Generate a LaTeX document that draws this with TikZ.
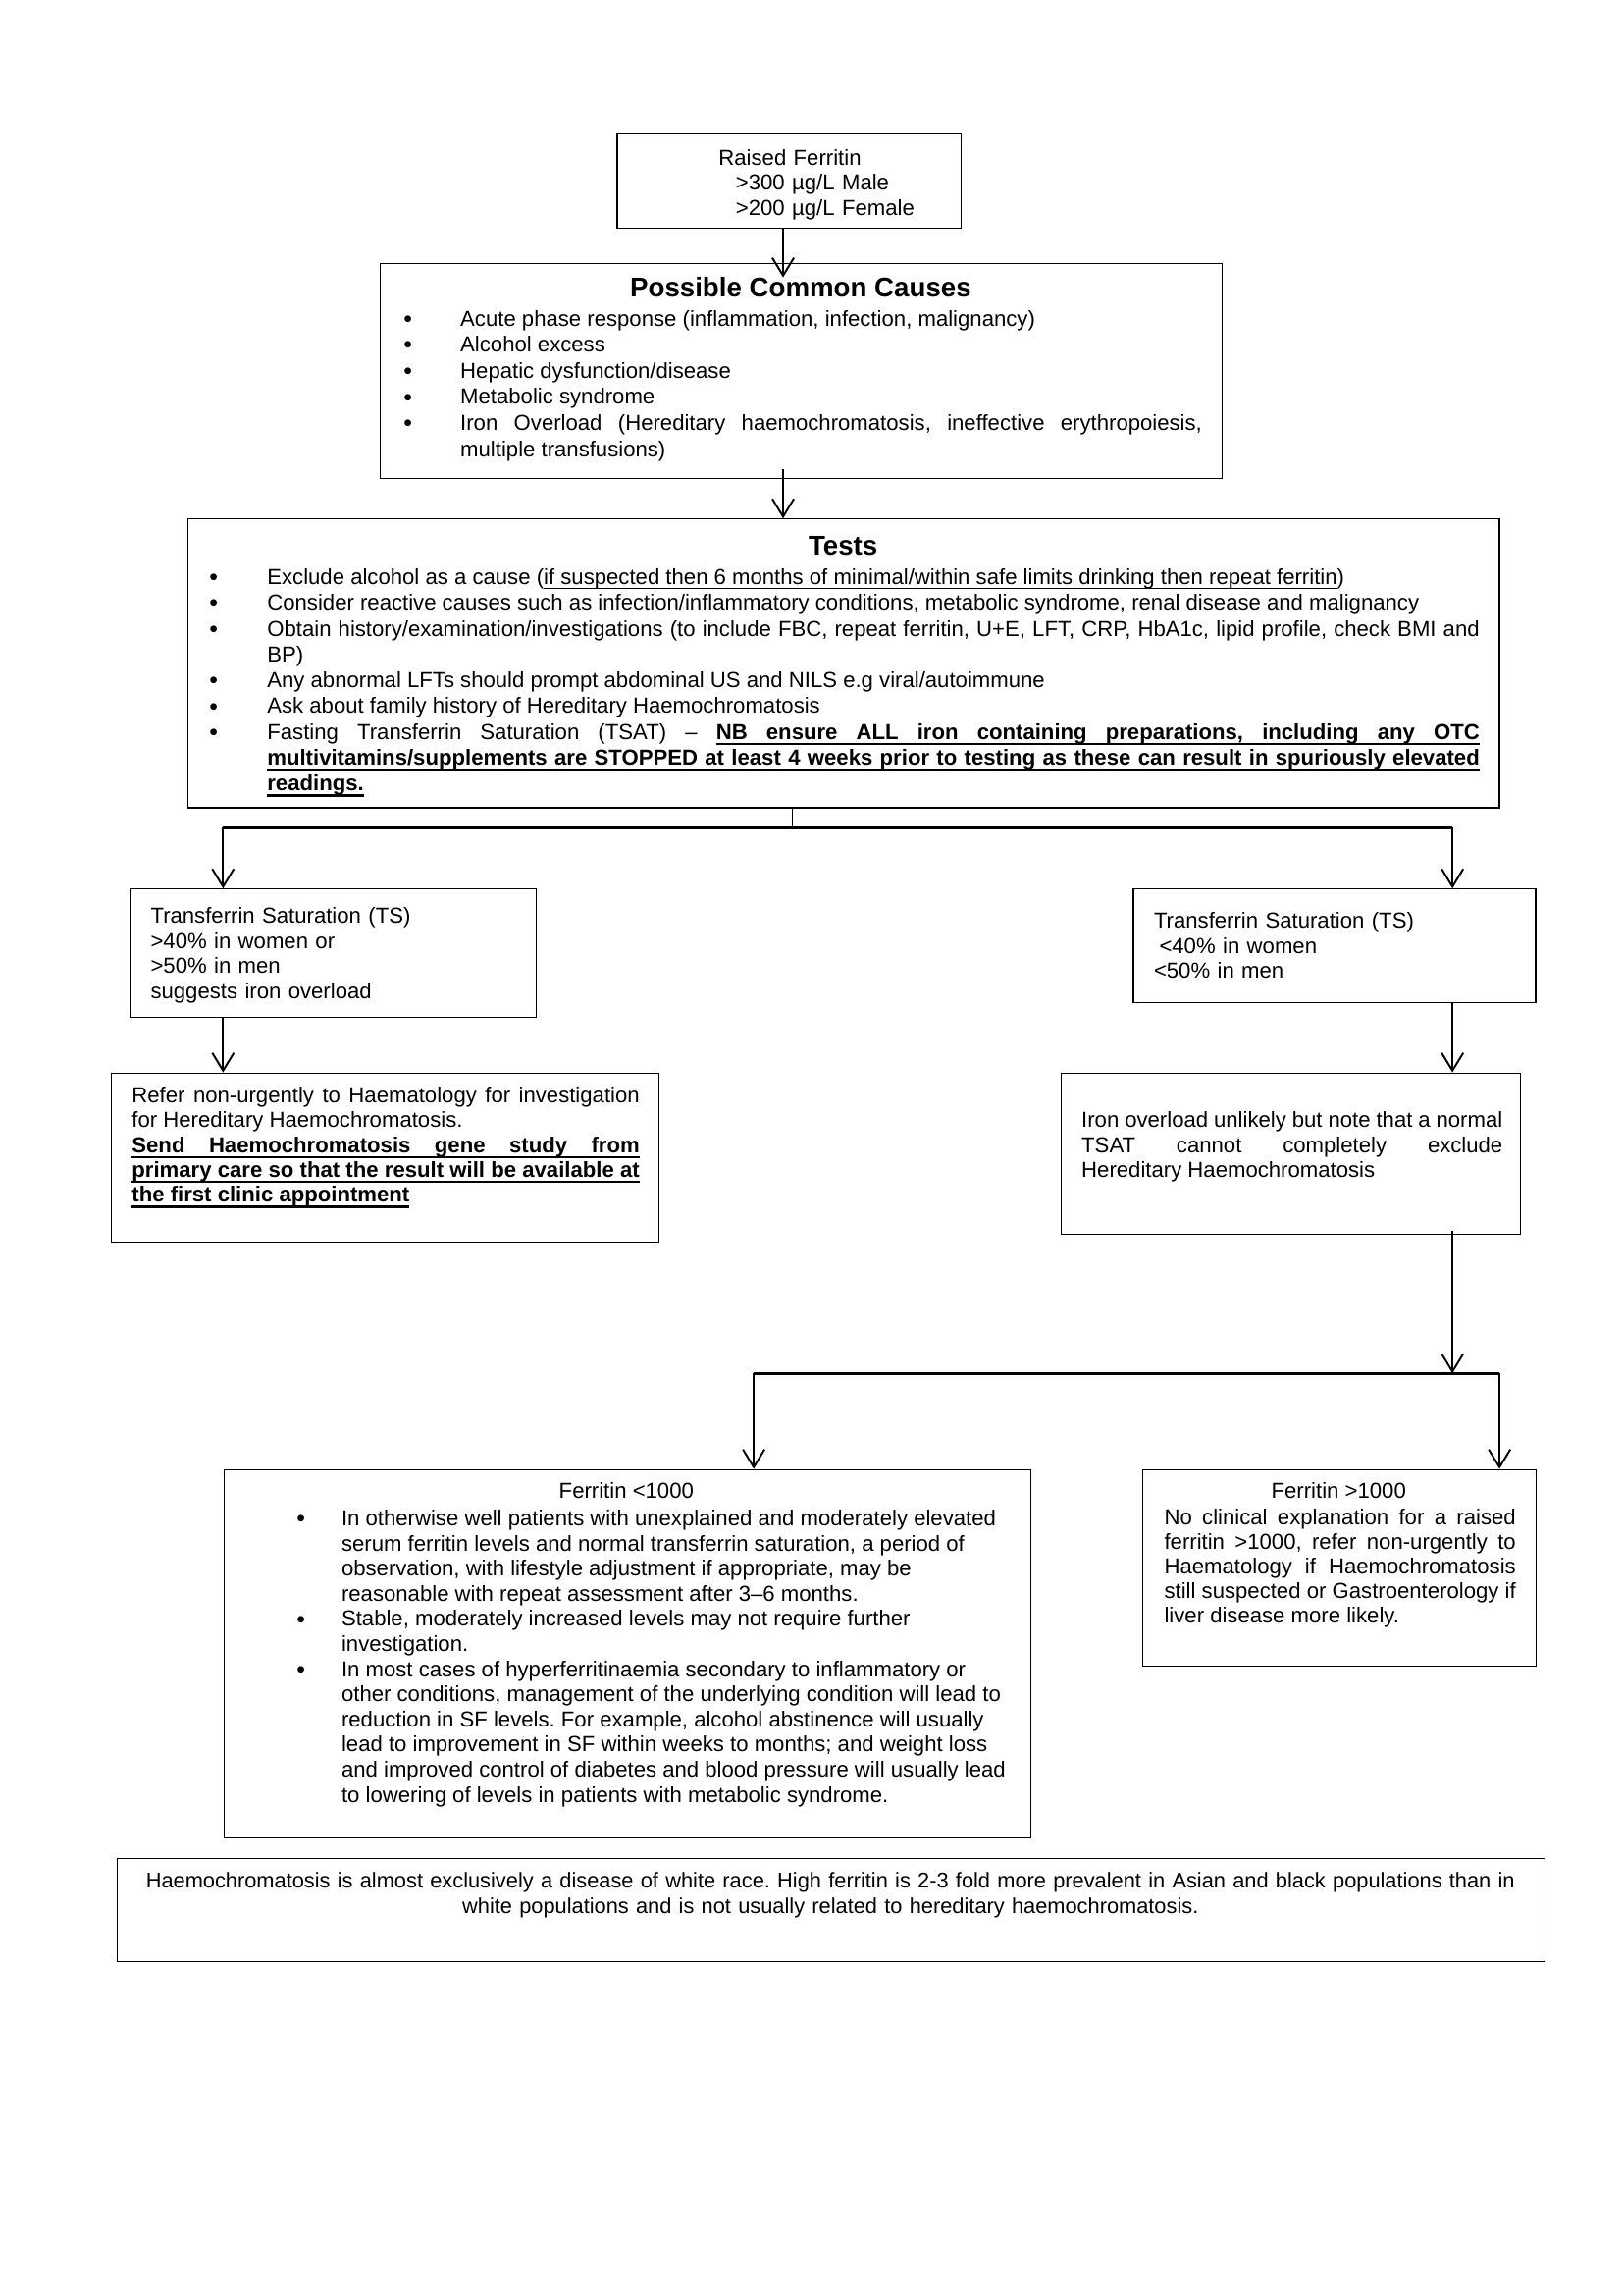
\documentclass[tikz,border=0pt]{standalone}
\usepackage{fontspec}
\setmainfont{Liberation Sans}
\usetikzlibrary{arrows.meta}
\setlength{\parindent}{0pt}
\tolerance=10000
\hyphenpenalty=10000
\frenchspacing
\newcommand{\fs}[1]{\fontsize{8}{#1}\selectfont}
\newcommand{\bhead}[1]{\hangindent=#1\hangafter=1\noindent\makebox[#1][l]{\hspace{0.03cm}{\fontsize{9}{9}\selectfont\raisebox{-0.4pt}{\textbullet}}}}
\newcommand{\bitem}[1]{\par\bhead{#1}}
% underlining word by word, so that justified spaces stay underlined
\newcommand{\ulset}[2]{\def\ultop{#1}\def\ulbot{#2}}
\def\ulword#1{\setbox0=\hbox{#1}\rlap{\vrule height -\ultop depth \ulbot width \wd0}\box0}
\def\ulspace{\leaders\hrule height -\ultop depth \ulbot\hskip\fontdimen2\font plus\fontdimen3\font minus\fontdimen4\font\relax}
\def\ulstop#1\ulend{}
\def\ulparse#1 #2\ulend{\ulword{#1}\ifx\relax#2\relax\expandafter\ulstop\else\ulspace\expandafter\ulparse\fi#2\ulend}
\newcommand{\ulbf}[1]{\textbf{\ulset{1.3pt}{2.2pt}\ulparse#1 \ulend}}
\newcommand{\ulthin}[1]{{\ulset{1.2pt}{1.6pt}\ulparse#1 \ulend}}
\begin{document}
\begin{tikzpicture}[
  box/.style={draw, line width=0.4pt, inner sep=0pt, anchor=north west},
  txt/.style={inner sep=0pt, anchor=north west},
  heading/.style={inner sep=0pt, anchor=base, font=\fontsize{10}{12}\selectfont\bfseries},
  conn/.style={line width=0.7pt},
  arr/.style={conn, -{Straight Barb[length=2.3mm,width=2.8mm]}},
  bar/.style={line width=1pt}]

\useasboundingbox (0,0) rectangle (21.006,29.553);

% Drawing boxes
\draw (7.981,27.826) node [box, minimum width=4.453cm, minimum height=1.219cm] (raised) {};%
\draw (4.915,26.146) node [box, minimum width=10.892cm, minimum height=2.774cm] (causes) {};%
\draw (2.421,22.844) node [box, minimum width=16.977cm, minimum height=3.737cm] (tests) {};%
\draw (1.674,18.056) node [box, minimum width=5.259cm, minimum height=1.660cm] (highsat) {};%
\draw (14.661,18.056) node [box, minimum width=5.207cm, minimum height=1.474cm] (lowsat) {};%
\draw (1.431,15.676) node [box, minimum width=7.095cm, minimum height=2.189cm] (refer) {};%
\draw (13.723,15.676) node [box, minimum width=5.952cm, minimum height=2.091cm] (unlikely) {};%
\draw (2.892,10.545) node [box, minimum width=10.441cm, minimum height=4.764cm] (ferlow) {};%
\draw (14.783,10.545) node [box, minimum width=5.086cm, minimum height=2.548cm] (ferhigh) {};%
\draw (1.516,5.511) node [box, minimum width=18.475cm, minimum height=1.331cm] (note) {};%

% Drawing texts
\draw (9.295,27.641) node [txt, text width=3cm, align=left, font=\fs{9.1}] (raisedtxt)
  {\strut Raised Ferritin\\\hspace*{0.222cm}>300 µg/L Male\\\hspace*{0.222cm}>200 µg/L Female};%

\draw (10.362,25.709) node [heading] (causestitle) {Possible Common Causes};%
\draw (5.186,25.576) node [txt, text width=10.364cm, align=justify, font=\fs{9.6}] (causestxt)
  {\bhead{0.766cm}\strut Acute phase response (inflammation, infection, malignancy)
   \bitem{0.766cm}Alcohol excess
   \bitem{0.766cm}Hepatic dysfunction/disease
   \bitem{0.766cm}Metabolic syndrome
   \bitem{0.766cm}Iron Overload (Hereditary haemochromatosis, ineffective erythropoiesis,\linebreak multiple transfusions)\par};%

\draw (10.911,22.365) node [heading] (teststitle) {Tests};%
\draw (2.674,22.230) node [txt, text width=16.468cm, align=justify, font=\fs{9.5}] (teststxt)
  {\bhead{0.778cm}\strut Exclude alcohol as a cause (\ulthin{if suspected then 6 months of minimal/within safe limits drinking then repeat ferritin})
   \bitem{0.778cm}Consider reactive causes such as infection/inflammatory conditions, metabolic syndrome, renal disease and malignancy
   \bitem{0.778cm}Obtain history/examination/investigations (to include FBC, repeat ferritin, U+E, LFT, CRP, HbA1c, lipid profile, check BMI and\linebreak BP)
   \bitem{0.778cm}Any abnormal LFTs should prompt abdominal US and NILS e.g viral/autoimmune
   \bitem{0.778cm}Ask about family history of Hereditary Haemochromatosis
   \bitem{0.778cm}Fasting Transferrin Saturation (TSAT) – \ulbf{NB ensure ALL iron containing preparations, including any OTC}\linebreak
   \ulbf{multivitamins/supplements are STOPPED at least 4 weeks prior to testing as these can result in spuriously elevated}\linebreak
   \ulbf{readings.}\par};%

\draw (1.943,17.842) node [txt, text width=5cm, align=left, font=\fs{9.22}] (highsattxt)
  {\strut Transferrin Saturation (TS)\\>40\% in women or\\>50\% in men\\suggests iron overload};%
\draw (14.928,17.778) node [txt, text width=4.8cm, align=left, font=\fs{9.22}] (lowsattxt)
  {\strut Transferrin Saturation (TS)\\\hspace*{0.07cm}<40\% in women\\<50\% in men};%

\draw (1.700,15.511) node [txt, text width=6.571cm, align=justify, font=\fs{9.09}] (refertxt)
  {\strut Refer non-urgently to Haematology for investigation\linebreak for Hereditary Haemochromatosis.\par
   \ulbf{Send Haemochromatosis gene study from}\linebreak
   \ulbf{primary care so that the result will be available at}\linebreak
   \ulbf{the first clinic appointment}\par};%
\draw (13.991,15.196) node [txt, text width=5.45cm, align=justify, font=\fs{9.18}] (unlikelytxt)
  {\strut Iron overload unlikely but note that a normal\linebreak TSAT cannot completely exclude\linebreak Hereditary Haemochromatosis\par};%

\draw (8.107,10.164) node [heading, font=\fs{9.25}] (ferlowtitle) {Ferritin <1000};%
\draw (3.804,10.045) node [txt, text width=9.5cm, align=justify, font=\fs{9.25}] (ferlowtxt)
  {\bhead{0.609cm}\strut In otherwise well patients with unexplained and moderately elevated\newline
   serum ferritin levels and normal transferrin saturation, a period of\newline
   observation, with lifestyle adjustment if appropriate, may be\newline
   reasonable with repeat assessment after 3–6 months.
   \bitem{0.609cm}Stable, moderately increased levels may not require further\newline
   investigation.
   \bitem{0.609cm}In most cases of hyperferritinaemia secondary to inflammatory or\newline
   other conditions, management of the underlying condition will lead to\newline
   reduction in SF levels. For example, alcohol abstinence will usually\newline
   lead to improvement in SF within weeks to months; and weight loss\newline
   and improved control of diabetes and blood pressure will usually lead\newline
   to lowering of levels in patients with metabolic syndrome.\par};%

\draw (17.326,10.164) node [heading, font=\fs{9}] (ferhightitle) {Ferritin >1000};%
\draw (15.062,10.048) node [txt, text width=4.550cm, align=justify, font=\fs{9}] (ferhightxt)
  {\strut No clinical explanation for a raised\linebreak ferritin >1000, refer non-urgently to\linebreak
   Haematology if Haemochromatosis\linebreak still suspected or Gastroenterology if\linebreak
   liver disease more likely.\par};%

\draw (10.748,5.361) node [txt, anchor=north, text width=18.3cm, align=center, font=\fontsize{7.88}{9.29}\selectfont] (notetxt)
  {\strut Haemochromatosis is almost exclusively a disease of white race. High ferritin is 2-3 fold more prevalent in Asian and black populations than in\\
   white populations and is not usually related to hereditary haemochromatosis.};%

% Drawing connectors
\coordinate (axis) at (10.135,25.963);
\coordinate (split) at (10.255,18.845);
\coordinate (splitl) at (2.887,18.845);
\coordinate (splitr) at (18.798,18.845);
\coordinate (forkl) at (9.755,11.782);
\coordinate (forkr) at (19.407,11.782);

\draw [arr] (axis |- raised.south) -- (axis);%
\draw [arr] ([yshift=0.127cm]causes.south -| axis) -- (axis |- tests.north);%
\draw [conn] (tests.south -| split) -- (split);%
\draw [bar] (splitl) -- (splitr);%
\draw [arr] (splitl) -- (splitl |- highsat.north);%
\draw [arr] (splitr) -- (splitr |- lowsat.north);%
\draw [arr] (splitl |- highsat.south) -- (splitl |- refer.north);%
\draw [arr] (splitr |- lowsat.south) -- (splitr |- unlikely.north);%
\draw [arr] ([yshift=0.06cm]unlikely.south -| splitr) -- (splitr |- forkl);%
\draw [bar] (forkl) -- (forkr);%
\draw [arr] (forkl) -- (forkl |- ferlow.north);%
\draw [arr] (forkr) -- (forkr |- ferhigh.north);%
\end{tikzpicture}
\end{document}
